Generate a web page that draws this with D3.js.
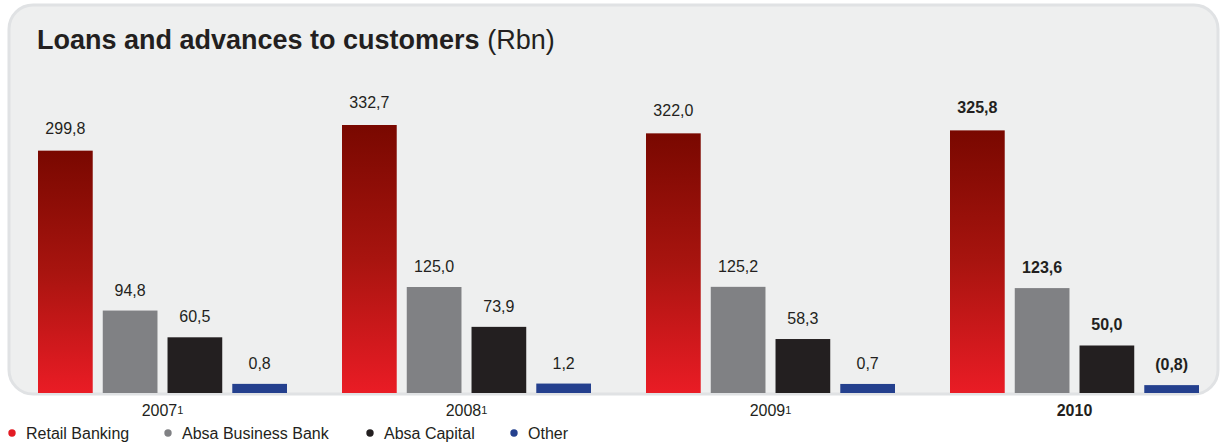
<!DOCTYPE html>
<html>
<head>
<meta charset="utf-8">
<script src="https://cdn.jsdelivr.net/npm/d3@7"></script>
<style>
  html, body { margin: 0; padding: 0; background: #ffffff; }
  svg { display: block; font-family: "Liberation Sans", Arial, sans-serif; }
</style>
</head>
<body>
<svg id="chart" width="1220" height="443"></svg>
<script>
// Years shown on the axis, with footnote markers
const years = ["2007", "2008", "2009", "2010"];
const yearNotes = ["1", "1", "1", ""];
const highlightYear = "2010";

// Business units (series)
const units = ["Retail Banking", "Absa Business Bank", "Absa Capital", "Other"];
const unitColors = ["#e31b23", "#808184", "#231f20", "#24408e"];

// Values per unit, Rbn, one entry per year
const retailBanking = [299.8, 332.7, 322.0, 325.8];
const businessBank = [94.8, 125.0, 125.2, 123.6];
const absaCapital = [60.5, 73.9, 58.3, 50.0];
const other = [0.8, 1.2, 0.7, -0.8];

const seriesValues = [retailBanking, businessBank, absaCapital, other];

// South African number style: decimal comma, negatives in brackets
const fmt = v => {
  const s = Math.abs(v).toFixed(1).replace(".", ",");
  return v < 0 ? "(" + s + ")" : s;
};

const svg = d3.select("#chart");
const defs = svg.append("defs");

// Red bars fade from dark maroon at the top to bright red at the base
const grad = defs.append("linearGradient")
  .attr("id", "retailGrad")
  .attr("x1", 0).attr("y1", 0).attr("x2", 0).attr("y2", 1);
grad.append("stop").attr("offset", "0%").attr("stop-color", "#790800");
grad.append("stop").attr("offset", "50%").attr("stop-color", "#a8140f");
grad.append("stop").attr("offset", "100%").attr("stop-color", "#ea1c25");

// Panel
svg.append("rect")
  .attr("x", 9).attr("y", 5)
  .attr("width", 1209).attr("height", 389)
  .attr("rx", 24).attr("ry", 24)
  .attr("fill", "#eeefef")
  .attr("stroke", "#e0e2e4")
  .attr("stroke-width", 3);

// Title
const title = svg.append("text")
  .attr("x", 37).attr("y", 49)
  .attr("fill", "#231f20")
  .style("font-size", "27px");
title.append("tspan").attr("font-weight", "bold").text("Loans and advances to customers");
title.append("tspan").attr("font-weight", "normal").text(" (Rbn)");

// Scales
const groupWidth = 249;
const groupStep = 304;
const x0 = d3.scaleBand()
  .domain(years)
  .range([38, 38 + groupStep * 3 + groupWidth])
  .paddingInner((groupStep - groupWidth) / groupStep)
  .paddingOuter(0);

const x1 = d3.scaleBand()
  .domain(units)
  .range([0, x0.bandwidth()])
  .paddingInner(0.155);

const y = d3.scaleLinear()
  .domain([-10.9, 332.7])
  .range([393, 125]);

const baseVal = y.domain()[0];

const groups = svg.append("g").selectAll("g")
  .data(years)
  .join("g")
  .attr("transform", d => `translate(${x0(d)},0)`);

groups.each(function (yr, yi) {
  const g = d3.select(this);
  units.forEach((u, ui) => {
    const v = seriesValues[ui][yi];
    const top = y(v);
    g.append("rect")
      .attr("x", x1(u))
      .attr("y", top)
      .attr("width", x1.bandwidth())
      .attr("height", y(baseVal) - top)
      .attr("fill", ui === 0 ? "url(#retailGrad)" : unitColors[ui]);
    g.append("text")
      .attr("x", x1(u) + x1.bandwidth() / 2)
      .attr("y", top - (ui === 0 ? 17 : 15))
      .attr("text-anchor", "middle")
      .attr("fill", "#231f20")
      .attr("font-weight", yr === highlightYear ? "bold" : "normal")
      .style("font-size", "16px")
      .text(fmt(v));
  });
});

// X axis labels
const xAxis = svg.append("g").attr("transform", "translate(0,416)");
xAxis.call(d3.axisBottom(x0).tickSize(0).tickFormat(""));
xAxis.select(".domain").remove();
xAxis.selectAll(".tick").each(function (yr, i) {
  const t = d3.select(this).append("text")
    .attr("y", 0)
    .attr("text-anchor", "middle")
    .attr("fill", "#231f20")
    .attr("font-weight", yr === highlightYear ? "bold" : "normal")
    .style("font-size", "16px");
  t.append("tspan").text(yr);
  if (yearNotes[i]) {
    t.append("tspan").attr("dy", -2.5).style("font-size", "11px").text(yearNotes[i]);
  }
});

// Legend
const legendX = [12, 168, 370, 514];
const legend = svg.append("g").selectAll("g")
  .data(units)
  .join("g")
  .attr("transform", (d, i) => `translate(${legendX[i]},433)`);
legend.append("circle")
  .attr("r", 3.7)
  .attr("fill", (d, i) => unitColors[i]);
legend.append("text")
  .attr("x", 14).attr("y", 6)
  .attr("fill", "#231f20")
  .style("font-size", "16px")
  .text(d => d);
</script>
</body>
</html>
